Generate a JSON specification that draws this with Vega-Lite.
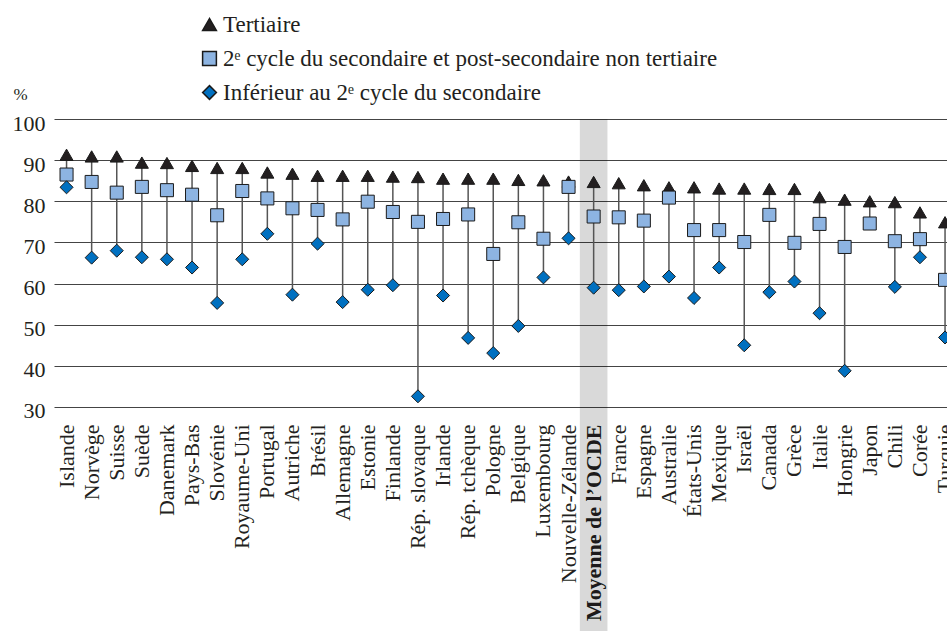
{
  "$schema": "https://vega.github.io/schema/vega-lite/v6.json",
  "autosize": "none",
  "width": 903.6,
  "height": 288,
  "padding": {"left": 54, "top": 119, "right": 0, "bottom": 224},
  "background": "white",
  "config": {
    "view": {"stroke": null},
    "font": "Liberation Serif",
    "legend": {"labelFont": "Liberation Serif", "labelFontSize": 23, "labelColor": "#231f20"}
  },
  "data": {
    "values": [
      {"pays": "Islande", "ter": 91.3, "sec": 86.5, "inf": 83.4},
      {"pays": "Norvège", "ter": 90.9, "sec": 84.7, "inf": 66.3},
      {"pays": "Suisse", "ter": 90.9, "sec": 82.1, "inf": 68.0},
      {"pays": "Suède", "ter": 89.4, "sec": 83.5, "inf": 66.4},
      {"pays": "Danemark", "ter": 89.3, "sec": 82.7, "inf": 65.9},
      {"pays": "Pays-Bas", "ter": 88.6, "sec": 81.6, "inf": 63.9},
      {"pays": "Slovénie", "ter": 88.1, "sec": 76.6, "inf": 55.3},
      {"pays": "Royaume-Uni", "ter": 88.1, "sec": 82.5, "inf": 65.9},
      {"pays": "Portugal", "ter": 87.0, "sec": 80.7, "inf": 72.1},
      {"pays": "Autriche", "ter": 86.7, "sec": 78.3, "inf": 57.3},
      {"pays": "Brésil", "ter": 86.2, "sec": 77.9, "inf": 69.7},
      {"pays": "Allemagne", "ter": 86.2, "sec": 75.6, "inf": 55.5},
      {"pays": "Estonie", "ter": 86.2, "sec": 79.9, "inf": 58.5},
      {"pays": "Finlande", "ter": 86.0, "sec": 77.4, "inf": 59.6},
      {"pays": "Rép. slovaque", "ter": 85.9, "sec": 75.0, "inf": 32.6},
      {"pays": "Irlande", "ter": 85.5, "sec": 75.7, "inf": 57.1},
      {"pays": "Rép. tchèque", "ter": 85.5, "sec": 76.8, "inf": 46.8},
      {"pays": "Pologne", "ter": 85.5, "sec": 67.2, "inf": 43.1},
      {"pays": "Belgique", "ter": 85.2, "sec": 74.9, "inf": 49.7},
      {"pays": "Luxembourg", "ter": 85.1, "sec": 70.9, "inf": 61.5},
      {"pays": "Nouvelle-Zélande", "ter": 84.8, "sec": 83.5, "inf": 71.0},
      {"pays": "Moyenne de l’OCDE", "ter": 84.7, "sec": 76.3, "inf": 59.0},
      {"pays": "France", "ter": 84.4, "sec": 76.1, "inf": 58.4},
      {"pays": "Espagne", "ter": 83.9, "sec": 75.3, "inf": 59.3},
      {"pays": "Australie", "ter": 83.4, "sec": 80.9, "inf": 61.7},
      {"pays": "États-Unis", "ter": 83.4, "sec": 73.0, "inf": 56.5},
      {"pays": "Mexique", "ter": 83.1, "sec": 73.0, "inf": 63.9},
      {"pays": "Israël", "ter": 83.1, "sec": 70.1, "inf": 45.0},
      {"pays": "Canada", "ter": 83.0, "sec": 76.7, "inf": 57.9},
      {"pays": "Grèce", "ter": 83.0, "sec": 69.9, "inf": 60.5},
      {"pays": "Italie", "ter": 81.0, "sec": 74.5, "inf": 52.8},
      {"pays": "Hongrie", "ter": 80.4, "sec": 68.9, "inf": 38.8},
      {"pays": "Japon", "ter": 80.0, "sec": 74.6, "inf": null},
      {"pays": "Chili", "ter": 79.8, "sec": 70.3, "inf": 59.2},
      {"pays": "Corée", "ter": 77.3, "sec": 70.8, "inf": 66.4},
      {"pays": "Turquie", "ter": 74.9, "sec": 60.9, "inf": 46.9}
    ]
  },
  "transform": [
    {"fold": ["ter", "sec", "inf"], "as": ["niveau", "valeur"]}
  ],
  "encoding": {
    "x": {
      "field": "pays",
      "type": "nominal",
      "sort": ["Islande", "Norvège", "Suisse", "Suède", "Danemark", "Pays-Bas", "Slovénie", "Royaume-Uni", "Portugal", "Autriche", "Brésil", "Allemagne", "Estonie", "Finlande", "Rép. slovaque", "Irlande", "Rép. tchèque", "Pologne", "Belgique", "Luxembourg", "Nouvelle-Zélande", "Moyenne de l’OCDE", "France", "Espagne", "Australie", "États-Unis", "Mexique", "Israël", "Canada", "Grèce", "Italie", "Hongrie", "Japon", "Chili", "Corée", "Turquie"],
      "scale": {"type": "band", "paddingInner": 0, "paddingOuter": 0},
      "axis": {
        "title": null,
        "labelAngle": -90,
        "labelFont": "Liberation Serif",
        "labelFontSize": 22,
        "labelColor": "#231f20",
        "labelPadding": 17,
        "labelFontWeight": {"condition": {"test": "datum.value === 'Moyenne de l’OCDE'", "value": "bold"}, "value": "normal"},
        "ticks": false,
        "domain": false,
        "grid": false,
        "labelOverlap": false,
        "labelLimit": 400
      }
    }
  },
  "layer": [
    {
      "transform": [{"filter": "datum.pays === 'Moyenne de l’OCDE' && datum.niveau === 'ter'"}],
      "mark": {"type": "bar", "color": "#000000", "opacity": 0.15, "width": {"band": 1.1}},
      "encoding": {
        "y": {"datum": 100, "type": "quantitative", "scale": {"domain": [30, 100], "nice": false, "zero": false}},
        "y2": {"datum": -30}
      }
    },
    {
      "mark": {"type": "rule", "color": "#555555", "strokeWidth": 1.5},
      "encoding": {
        "y": {"aggregate": "min", "field": "valeur", "type": "quantitative", "scale": {"domain": [30, 100], "nice": false, "zero": false}},
        "y2": {"aggregate": "max", "field": "valeur"}
      }
    },
    {
      "mark": {"type": "point", "filled": true, "opacity": 1, "size": 170, "stroke": "#1a1a1a", "strokeWidth": 1},
      "encoding": {
        "y": {
          "field": "valeur",
          "type": "quantitative",
          "scale": {"domain": [30, 100], "nice": false, "zero": false},
          "axis": {
            "title": "%",
            "titleAngle": 0,
            "titleFont": "Liberation Serif",
            "titleFontSize": 17,
            "titleFontWeight": "normal",
            "titleColor": "#231f20",
            "titleX": -34,
            "titleY": -16,
            "titleAlign": "center",
            "values": [30, 40, 50, 60, 70, 80, 90, 100],
            "labelFont": "Liberation Serif",
            "labelFontSize": 22,
            "labelColor": "#231f20",
            "labelPadding": 9,
            "labelOffset": 4,
            "ticks": false,
            "domain": false,
            "grid": true,
            "gridColor": "#444444",
            "gridWidth": 1.2,
            "gridOpacity": 1
          }
        },
        "fill": {
          "field": "niveau",
          "type": "nominal",
          "scale": {"domain": ["ter", "sec", "inf"], "range": ["#231f20", "#8db4e2", "#0070c0"]},
          "legend": null
        },
        "shape": {
          "field": "niveau",
          "type": "nominal",
          "title": null,
          "scale": {"domain": ["ter", "sec", "inf"], "range": ["triangle-up", "square", "diamond"]},
          "legend": {
            "title": null,
            "orient": "none",
            "legendX": 144,
            "legendY": -106,
            "labelFont": "Liberation Serif",
            "labelFontSize": 23,
            "labelColor": "#231f20",
            "labelExpr": "datum.value === 'ter' ? 'Tertiaire' : datum.value === 'sec' ? '2ᵉ cycle du secondaire et post-secondaire non tertiaire' : 'Inférieur au 2ᵉ cycle du secondaire'",
            "labelLimit": 700,
            "symbolSize": 190,
            "rowPadding": 10,
            "labelOffset": 2,
            "encode": {
              "symbols": {"update": {"stroke": {"value": "#1a1a1a"}, "strokeWidth": {"value": 1}, "fill": {"signal": "datum.value === 'ter' ? '#231f20' : datum.value === 'sec' ? '#8db4e2' : '#0070c0'"}}}
            }
          }
        }
      }
    }
  ]
}
